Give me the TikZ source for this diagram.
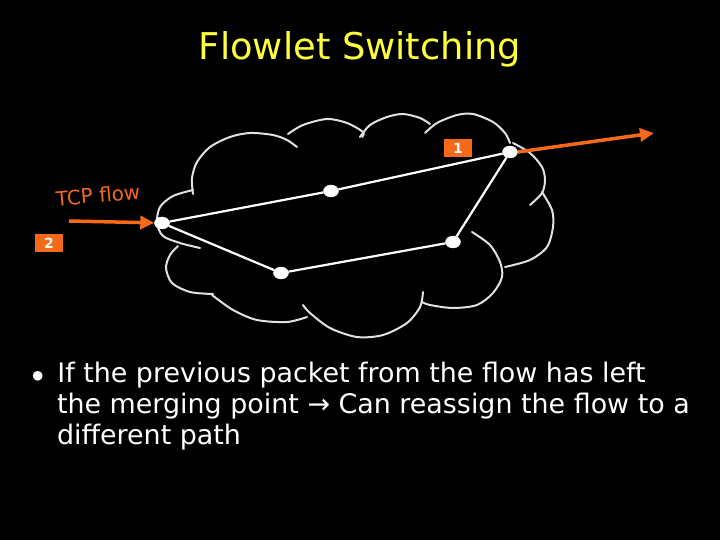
\documentclass[tikz,border=0pt]{standalone}
\usepackage{fontspec}
\setmainfont{DejaVu Sans}
\usetikzlibrary{arrows.meta,shapes.geometric}
\definecolor{flowor}{RGB}{245,105,25}
\definecolor{titleyel}{RGB}{255,255,60}
\definecolor{cloudgray}{RGB}{225,225,225}
\tikzset{
  router/.style={ellipse,fill=white,draw=white,minimum width=15bp,minimum height=12bp,inner sep=0pt},
  link/.style={draw=white,line width=2.2bp},
  bump/.style={draw=cloudgray,line width=2bp,line cap=round},
  flowarrow/.style={draw=flowor,line width=3.5bp,-{Triangle[length=14bp,width=13bp]}},
  tag/.style={fill=flowor,text=white,font=\fontsize{14}{14}\selectfont\bfseries,minimum width=28bp,minimum height=18bp,inner sep=0pt}
}
\begin{document}
\begin{tikzpicture}[x=1bp,y=-1bp]
      \fill[black] (0,0) rectangle (720,540);
      \useasboundingbox (0,0) rectangle (720,540);
      \node[text=titleyel,font=\fontsize{37}{37}\selectfont] (title) at (360,49) {Flowlet Switching};
      % cloud
      \begin{scope}[bump]
        \draw plot[smooth] coordinates {(193,194) (192,178) (197,162) (210,147) (230,137) (250,133) (273,135) (287,140) (297,147)};
        \draw plot[smooth] coordinates {(288,134) (303,125) (327,119) (347,123) (363,132) (362,137)};
        \draw plot[smooth] coordinates {(360,137) (370,125) (387,117) (403,114) (420,118) (430,124)};
        \draw plot[smooth] coordinates {(425,133) (437,123) (457,115) (473,114) (493,122) (505,133) (510,143)};
        \draw plot[smooth] coordinates {(513,143) (530,153) (542,167) (545,180) (542,193) (530,205)};
        \draw plot[smooth] coordinates {(542,192) (552,210) (553,227) (547,247) (530,260) (505,267)};
        \draw plot[smooth] coordinates {(472,232) (490,245) (500,262) (502,277) (493,293) (477,305) (453,308) (430,305) (422,302)};
        \draw plot[smooth] coordinates {(423,292) (420,307) (407,323) (383,335) (357,337) (330,328) (310,313) (303,305)};
        \draw plot[smooth] coordinates {(307,317) (287,322) (257,320) (233,310) (212,295)};
        \draw plot[smooth] coordinates {(178,246) (170,255) (166,268) (172,283) (190,292) (213,294)};
        \draw plot[smooth] coordinates {(193,190) (173,196) (160,207) (157,223) (163,236) (180,243) (200,248)};
      \end{scope}
      % routers
      \draw
        (162,223) node[router] (0){}
        (331,191) node[router] (1){}
        (510,152) node[router] (2){}
        (453,242) node[router] (3){}
        (281,273) node[router] (4){};
      \begin{scope}[link]
        \draw (0) to (1);
        \draw (1) to (2);
        \draw (2) to (3);
        \draw (3) to (4);
        \draw (4) to (0);
      \end{scope}
      % flows
      \coordinate (in) at (69,221);
      \coordinate (out) at (654,133);
      \draw[flowarrow] (in) -- (0);
      \draw[flowarrow] (2.east) -- (out);
      \node[text=flowor,font=\fontsize{20}{20}\selectfont,rotate=5] (tcp) at (98,195) {TCP flow};
      \node[tag] (t1) at (458,148) {1};
      \node[tag] (t2) at (49,243) {2};
      % text
      \node[text=white,font=\fontsize{27}{31}\selectfont,align=left,anchor=north west] (txt) at (28,359)
        {$\bullet$\hspace{0.5em}If the previous packet from the flow has left\\
         \hspace{0.95em}the merging point → Can reassign the flow to a\\
         \hspace{0.95em}different path};
    \end{tikzpicture}
\end{document}
